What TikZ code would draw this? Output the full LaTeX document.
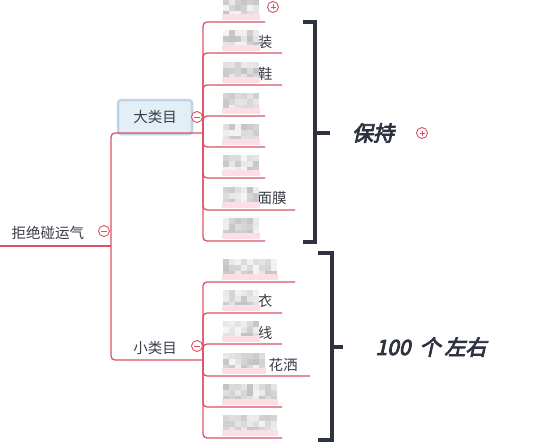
\documentclass[tikz,border=0pt]{standalone}
\usepackage{fontspec}
\usepackage{tikz}
\usetikzlibrary{positioning}
\newfontfamily\cjk{Noto Sans CJK SC}
\newfontfamily\cjkem[FakeSlant=0.22,FakeBold=4]{Noto Sans CJK SC}
\definecolor{branchred}{RGB}{220,80,100}
\definecolor{blurpink}{RGB}{252,222,228}
\definecolor{inkgray}{RGB}{58,60,70}
\definecolor{bracketgray}{RGB}{47,50,64}
\definecolor{boxfill}{RGB}{226,239,246}
\definecolor{boxline}{RGB}{188,212,230}

% pixelated label: x, y of the branch line, columns
\newcommand{\mosaic}[3]{%
  \foreach \c in {1,...,#3}{
    \foreach \r in {0,1,2}{
      \pgfmathtruncatemacro{\shade}{8+int(rnd*40)}
      \fill[gray!\shade] ({#1+(\c-1)*6},{#2-23+\r*6}) rectangle ++(6,6);
    }
  }
  \fill[blurpink] (#1-1,#2-8) rectangle ({#1+#3*6+1},#2-2);
}

\begin{document}
\begin{tikzpicture}[x=1pt,y=-1pt,
    topic/.style={font=\cjk\fontsize{14.5}{16}\selectfont, text=inkgray, inner sep=1pt},
    bigbox/.style={rectangle, rounded corners=3pt, draw=boxline, line width=2.5pt, fill=boxfill,
        minimum width=74pt, minimum height=34pt, font=\cjk\fontsize{14.5}{16}\selectfont, text=inkgray},
    branch/.style={draw=branchred, line width=1.3pt, rounded corners=4pt},
    bracket/.style={draw=bracketgray, line width=4pt},
    note/.style={font=\cjkem\fontsize{21}{23}\selectfont, text=bracketgray},
    collapse/.style={circle, draw=branchred, fill=white, line width=0.9pt, inner sep=0pt, minimum size=11pt,
        path picture={\draw[branchred, line width=0.9pt] ([xshift=-3pt]path picture bounding box.center)
            -- ([xshift=3pt]path picture bounding box.center);}},
    expand/.style={collapse,
        path picture={\draw[branchred, line width=0.8pt] ([xshift=-2.5pt]path picture bounding box.center)
            -- ([xshift=2.5pt]path picture bounding box.center)
            ([yshift=-2.5pt]path picture bounding box.center) -- ([yshift=2.5pt]path picture bounding box.center);}}
]
\useasboundingbox (0,0) rectangle (554,444);
\pgfmathsetseed{4711}

% root
\node[topic] (root) at (48,233) {拒绝碰运气};
\coordinate (rootL) at (0,246);
\coordinate (hub) at (111,246);
\draw[branch] (rootL) -- (hub);

% categories
\node[bigbox] (big) at (155,117) {大类目};
\node[topic] (small) at (155,348) {小类目};
\coordinate (bigJ) at (203,133);
\coordinate (smallJ) at (203,360);
\draw[branch] (hub) |- (bigJ);
\draw[branch] (hub) |- (smallJ);

% children of 大类目
\foreach \i/\y/\e in {1/22/265, 2/53/282, 3/85/282, 4/116/265, 5/147/265, 6/178/265, 7/210/295, 8/241/265}{
  \coordinate (b\i) at (\e,\y);
  \draw[branch] (bigJ) |- (b\i);
}
% children of 小类目
\foreach \i/\y/\e in {1/282/295, 2/313/282, 3/344/282, 4/376/310, 5/407/282, 6/438/282}{
  \coordinate (s\i) at (\e,\y);
  \draw[branch] (smallJ) |- (s\i);
}

% visible label parts
\node[topic] (b2t) at (265,42) {装};
\node[topic] (b3t) at (265,74) {鞋};
\node[topic] (b7t) at (272,198) {面膜};
\node[topic] (s2t) at (265,301) {衣};
\node[topic] (s3t) at (265,333) {线};
\node[topic] (s4t) at (283,365) {花洒};

% blurred label parts
\mosaic{223}{22}{6}
\mosaic{223}{53}{6}
\mosaic{223}{85}{6}
\mosaic{223}{116}{6}
\mosaic{223}{147}{6}
\mosaic{223}{178}{6}
\mosaic{223}{210}{6}
\mosaic{223}{241}{6}
\mosaic{223}{282}{9}
\mosaic{223}{313}{6}
\mosaic{223}{344}{6}
\mosaic{223}{376}{7}
\mosaic{223}{407}{9}
\mosaic{223}{438}{9}

% fold markers
\node[collapse] (rootC) at (104,231) {};
\node[collapse] (bigC) at (197,117) {};
\node[collapse] (smallC) at (197,346) {};
\node[expand] (b1E) at (273,7) {};

% brackets
\node[note] (keep) at (373,133) {保持};
\node[expand] (keepE) at (422,133) {};
\coordinate (k1) at (315,133);
\draw[bracket] (303,22) -- (315,22) -- (315,242) -- (303,242);
\draw[bracket] (k1) -- (keep.west -| 330,133);

\node[note] (count) at (431,347) {100\hspace{9pt}个\hspace{4pt}左右};
\coordinate (k2) at (332,347);
\draw[bracket] (318,253) -- (332,253) -- (332,440) -- (318,440);
\draw[bracket] (k2) -- (count.west -| 343,347);
\end{tikzpicture}
\end{document}
